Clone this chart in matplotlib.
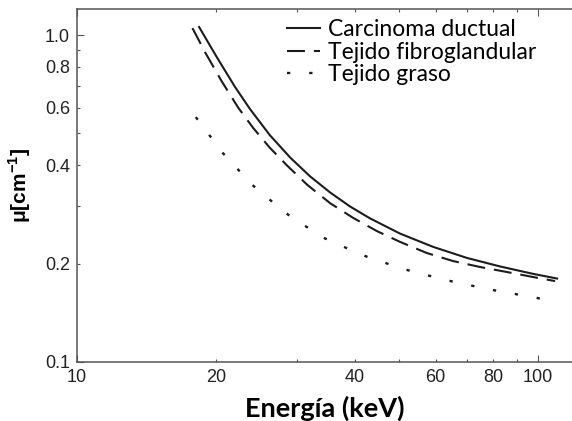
import matplotlib
matplotlib.use("Agg")
import matplotlib.pyplot as plt
from matplotlib.ticker import FixedLocator, FixedFormatter

plt.rcParams['mathtext.fontset'] = 'custom'
plt.rcParams['mathtext.rm'] = 'Liberation Sans:bold'
plt.rcParams['mathtext.bf'] = 'Liberation Sans:bold'

# energy (keV) / attenuation (1/cm)
energia_carcinoma = [18.4, 20.1, 22.0, 23.7, 26.2, 29.0, 32.0, 35.4, 39.1, 43.2,
                     50.2, 59.2, 70.2, 82.7, 97.6, 110.0]
mu_carcinoma = [1.058, 0.856, 0.695, 0.595, 0.494, 0.422, 0.370, 0.330, 0.299, 0.275,
                0.247, 0.225, 0.208, 0.196, 0.186, 0.180]

energia_fibro = [17.8, 19.0, 20.6, 22.4, 24.1, 26.2, 28.6, 31.6, 35.4, 39.7, 44.7,
                 50.2, 57.4, 65.4, 74.9, 85.7, 97.6, 108.9]
mu_fibro = [1.05, 0.881, 0.722, 0.598, 0.520, 0.452, 0.398, 0.348, 0.306, 0.276, 0.2515,
            0.233, 0.2154, 0.2036, 0.1952, 0.1884, 0.1819, 0.1768]

energia_graso = [18.1, 20.7, 24.0, 28.3, 34.0, 41.5, 51.0, 63.2, 77.9, 97.1, 107.8]
mu_graso = [0.561, 0.436, 0.348, 0.286, 0.241, 0.2125, 0.1925, 0.178, 0.167, 0.158, 0.1536]

etiquetas = ['Carcinoma ductual', 'Tejido fibroglandular', 'Tejido graso']

x_major = [10, 100]
x_minor = [20, 30, 40, 50, 60, 70, 80, 90]
x_minor_labels = ['20', '', '40', '', '60', '', '80', '']
y_major = [0.1, 1.0]
y_minor = [0.2, 0.3, 0.4, 0.5, 0.6, 0.7, 0.8, 0.9]
y_minor_labels = ['0.2', '', '0.4', '', '0.6', '', '0.8', '']

W, H = 572, 421
fig = plt.figure(figsize=(W / 100, H / 100), dpi=100)
ax = fig.add_axes([77 / W, 59 / H, 495 / W, 353 / H])

color = '#1c1c1c'
ax.plot(energia_carcinoma, mu_carcinoma, color=color, lw=1.5, label=etiquetas[0])
ax.plot(energia_fibro, mu_fibro, color=color, lw=1.5, linestyle=(0, (8.6, 4.3)),
        dash_capstyle='butt', label=etiquetas[1])
ax.plot(energia_graso, mu_graso, color=color, lw=1.7, linestyle=(0, (1.4, 8.0)),
        dash_capstyle='butt', label=etiquetas[2])

ax.set_xscale('log')
ax.set_yscale('log')
ax.set_xlim(10, 118.5)
ax.set_ylim(0.1, 1.201)

ax.xaxis.set_major_locator(FixedLocator(x_major))
ax.xaxis.set_major_formatter(FixedFormatter(['10', '100']))
ax.xaxis.set_minor_locator(FixedLocator(x_minor))
ax.xaxis.set_minor_formatter(FixedFormatter(x_minor_labels))
ax.yaxis.set_major_locator(FixedLocator(y_major))
ax.yaxis.set_major_formatter(FixedFormatter(['0.1', '1.0']))
ax.yaxis.set_minor_locator(FixedLocator(y_minor))
ax.yaxis.set_minor_formatter(FixedFormatter(y_minor_labels))

spine_color = '#555555'
for side in ['left', 'bottom', 'top']:
    ax.spines[side].set_color(spine_color)
    ax.spines[side].set_linewidth(1.1)
ax.spines['right'].set_visible(False)

ax.tick_params(which='both', direction='in', top=True, right=False,
               colors=spine_color, labelcolor='#222222', width=0.8, pad=5)
ax.tick_params(which='major', length=5)
ax.tick_params(which='minor', length=2.5)
for lab in ax.get_xticklabels(which='both') + ax.get_yticklabels(which='both'):
    lab.set_fontfamily('Liberation Sans')
    lab.set_fontsize(13)

ax.set_xlabel('Energía (keV)', fontfamily='Lato', fontweight='bold', fontsize=19.5)
ax.set_ylabel('μ[cm$^{\\mathbf{-1}}$]', fontfamily='Liberation Sans', fontweight='bold',
              fontsize=15)
ax.yaxis.set_label_coords(-0.089, 0.5)
ax.xaxis.set_label_coords(0.5, -0.094)

leg = ax.legend(loc='upper left', bbox_to_anchor=(287 / W, 1 - 19 / H),
                bbox_transform=fig.transFigure, frameon=False, borderpad=0,
                borderaxespad=0, handlelength=1.45, handletextpad=0.34,
                labelspacing=0.07, prop={'family': 'Lato', 'size': 16.5})

fig.savefig('out.png', dpi=100)
